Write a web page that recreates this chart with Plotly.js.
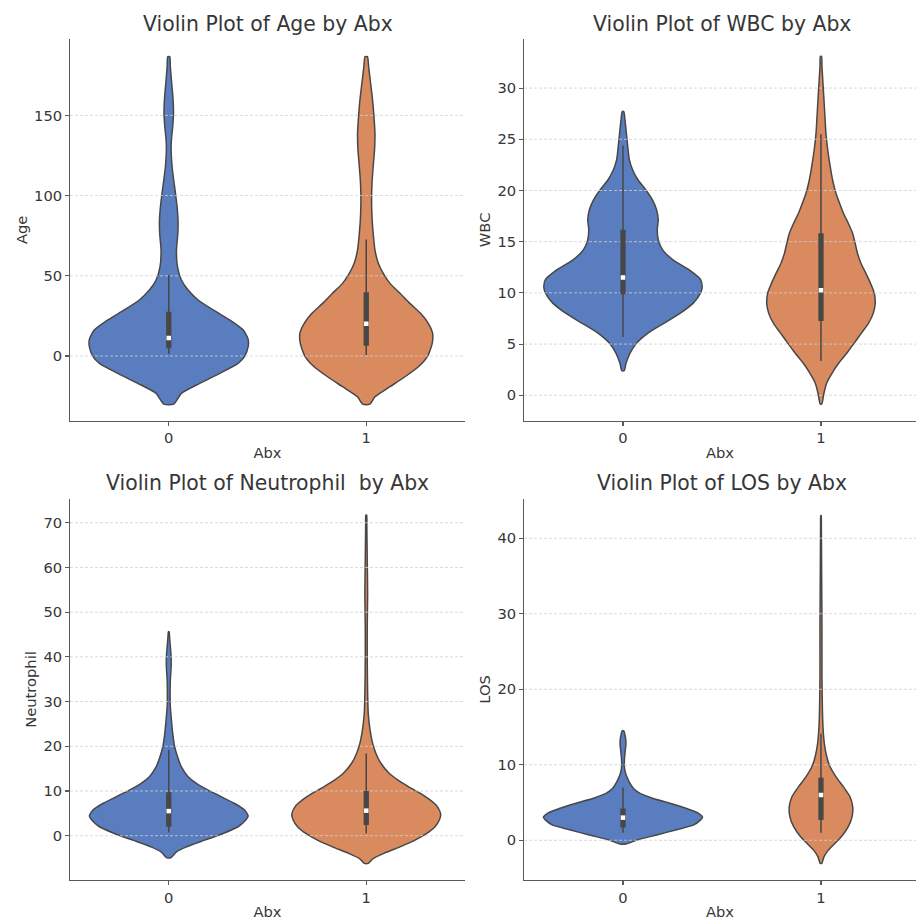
<!DOCTYPE html>
<html>
<head>
<meta charset="utf-8">
<script src="https://cdn.plot.ly/plotly-3.0.1.min.js"></script>
<style>html,body{margin:0;padding:0;background:#fff;}#chart{width:916px;height:920px;}</style>
</head>
<body>
<div id="chart"></div>
<script>
// ---------- data (density profile: y value, half-width in category units) ----------
const groups = ['0', '1'];
const groupPos = [0, 1];

// Age
const ageY0 = [-30, -23.3, -17, -10.8, -4.6, 0, 5.8, 10.4, 16.2, 22.4, 28.7, 34.9, 41.1, 47.4, 55.7, 66.1, 76.5, 84.8, 93.1, 101.4, 109.7, 118, 128.4, 134.7, 143, 151.3, 159.6, 170, 180.4, 186.6];
const ageW0 = [0.025, 0.064, 0.157, 0.258, 0.351, 0.385, 0.402, 0.402, 0.377, 0.31, 0.225, 0.149, 0.098, 0.064, 0.044, 0.039, 0.046, 0.047, 0.042, 0.034, 0.025, 0.017, 0.012, 0.0135, 0.02, 0.024, 0.022, 0.015, 0.008, 0.005];
const ageY1 = [-30, -25.4, -19.1, -12.9, -6.7, 0, 7.9, 14.1, 20.4, 26.6, 32.8, 39.1, 45.3, 51.5, 57.8, 66.1, 76.5, 86.9, 97.3, 107.6, 118, 128.4, 138.8, 149.2, 159.6, 170, 180.4, 186.6];
const ageW1 = [0.018, 0.044, 0.12, 0.196, 0.264, 0.311, 0.334, 0.336, 0.314, 0.275, 0.221, 0.171, 0.12, 0.086, 0.061, 0.044, 0.035, 0.029, 0.027, 0.029, 0.035, 0.042, 0.044, 0.039, 0.032, 0.022, 0.012, 0.006];
// [lower whisker, Q1, median, Q3, upper whisker]
const ageBox0 = [1.2, 4.8, 11.2, 27.6, 50.5];
const ageBox1 = [0.6, 6.4, 20.2, 39.7, 72.7];

// WBC
const wbcY0 = [2.4, 3.1, 4.1, 5.1, 6.1, 7.0, 8.0, 9.0, 10.0, 10.6, 11.3, 12.2, 13.2, 14.2, 15.2, 16.2, 17.1, 18.1, 19.1, 20.1, 21.0, 22.0, 23.0, 24.3, 25.6, 26.9, 27.7];
const wbcW0 = [0.006, 0.015, 0.035, 0.069, 0.128, 0.204, 0.288, 0.355, 0.392, 0.40, 0.392, 0.338, 0.254, 0.2, 0.178, 0.173, 0.178, 0.17, 0.148, 0.114, 0.077, 0.049, 0.032, 0.024, 0.017, 0.01, 0.004];
const wbcY1 = [-0.85, 0.2, 1.2, 2.1, 3.1, 4.1, 5.1, 6.1, 7.0, 8.0, 9.0, 10.0, 10.9, 11.9, 12.9, 13.9, 14.9, 15.8, 16.8, 17.8, 18.8, 19.7, 21.0, 22.3, 24.0, 25.6, 27.2, 28.9, 30.5, 32.1, 33.1];
const wbcW1 = [0.004, 0.015, 0.029, 0.054, 0.088, 0.13, 0.168, 0.205, 0.239, 0.264, 0.274, 0.269, 0.251, 0.227, 0.202, 0.184, 0.172, 0.16, 0.138, 0.113, 0.093, 0.076, 0.059, 0.047, 0.034, 0.025, 0.02, 0.015, 0.01, 0.005, 0.003];
const wbcBox0 = [5.7, 9.87, 11.5, 16.16, 24.4];
const wbcBox1 = [3.35, 7.26, 10.26, 15.83, 25.5];

// Neutrophil
const neuY0 = [-4.9, -3.6, -2.5, -1.0, 0.5, 2.0, 3.5, 4.4, 5.7, 7.2, 8.7, 10.2, 11.7, 13.2, 15.4, 17.7, 19.9, 22.9, 25.9, 28.9, 31.8, 34.8, 37.8, 40.0, 42.3, 44.5, 45.6];
const neuW0 = [0.012, 0.039, 0.09, 0.182, 0.275, 0.351, 0.39, 0.402, 0.385, 0.334, 0.267, 0.199, 0.14, 0.098, 0.064, 0.044, 0.03, 0.02, 0.0135, 0.008, 0.007, 0.008, 0.012, 0.012, 0.008, 0.004, 0.002];
const neuY1 = [-6.2, -5.1, -4.0, -2.5, -1.0, 0.5, 2.0, 3.5, 4.8, 6.5, 8.0, 9.5, 11.0, 12.5, 13.9, 16.2, 18.4, 20.7, 22.9, 25.1, 27.4, 31.8, 39.3, 46.8, 54.2, 61.7, 69.1, 71.7];
const neuW1 = [0.01, 0.035, 0.086, 0.171, 0.247, 0.306, 0.348, 0.37, 0.377, 0.36, 0.323, 0.272, 0.213, 0.159, 0.117, 0.074, 0.049, 0.032, 0.022, 0.015, 0.01, 0.007, 0.005, 0.005, 0.007, 0.005, 0.003, 0.002];
const neuBox0 = [0.75, 2.0, 5.5, 9.7, 19.2];
const neuBox1 = [0.5, 2.4, 5.6, 10.0, 18.4];

// LOS
const losY0 = [-0.5, 0.04, 0.7, 1.4, 2.0, 2.7, 3.05, 3.6, 4.2, 4.9, 5.6, 6.2, 6.9, 7.8, 8.7, 9.5, 10.6, 12.0, 12.8, 13.7, 14.5];
const losW0 = [0.015, 0.069, 0.17, 0.271, 0.355, 0.392, 0.402, 0.38, 0.322, 0.237, 0.145, 0.086, 0.052, 0.03, 0.015, 0.008, 0.007, 0.012, 0.015, 0.012, 0.004];
const losY1 = [-3.05, -2.2, -1.3, -0.4, 0.5, 1.8, 3.1, 4.5, 5.8, 7.1, 8.4, 9.8, 11.1, 12.8, 15.1, 17.7, 21.7, 28.3, 34.9, 41.5, 43];
const losW1 = [0.004, 0.015, 0.037, 0.071, 0.104, 0.138, 0.157, 0.16, 0.146, 0.113, 0.076, 0.045, 0.029, 0.017, 0.01, 0.007, 0.005, 0.005, 0.0035, 0.002, 0.001];
const losBox0 = [1.0, 1.7, 3.0, 4.2, 7.0];
const losBox1 = [1.0, 2.7, 6.0, 8.3, 14.1];

// tick values
const ageTicks = [0, 50, 100, 150];
const wbcTicks = [0, 5, 10, 15, 20, 25, 30];
const neuTicks = [0, 10, 20, 30, 40, 50, 60, 70];
const losTicks = [0, 10, 20, 30, 40];

const titles = ['Violin Plot of Age by Abx', 'Violin Plot of WBC by Abx', 'Violin Plot of Neutrophil\u00a0 by Abx', 'Violin Plot of LOS by Abx'];
const yLabels = ['Age', 'WBC', 'Neutrophil', 'LOS'];
const xLabel = 'Abx';

// ---------- styling ----------
const FONT = 'DejaVu Sans, Verdana, sans-serif';
const colors = ['#597dbf', '#d98b5f'];
const EDGE = '#474747';
const AXC = '#5a5a5a';
const TXT = '#363636';
const W = 916, H = 920;

const panels = [
  {ys: [ageY0, ageY1], ws: [ageW0, ageW1], box: [ageBox0, ageBox1], ticks: ageTicks, yr: [-40.3, 197.6], xr: [-0.5, 1.5], px: [70, 465], py: [39, 420.7]},
  {ys: [wbcY0, wbcY1], ws: [wbcW0, wbcW1], box: [wbcBox0, wbcBox1], ticks: wbcTicks, yr: [-2.48, 34.79], xr: [-0.5, 1.48], px: [524, 916], py: [39, 420.7]},
  {ys: [neuY0, neuY1], ws: [neuW0, neuW1], box: [neuBox0, neuBox1], ticks: neuTicks, yr: [-9.91, 75.31], xr: [-0.5, 1.5], px: [70, 465], py: [499, 880]},
  {ys: [losY0, losY1], ws: [losW0, losW1], box: [losBox0, losBox1], ticks: losTicks, yr: [-5.26, 45.2], xr: [-0.5, 1.48], px: [524, 916], py: [499, 880]}
];

const traces = [];
const layout = {
  width: W, height: H,
  margin: {l: 0, r: 0, t: 0, b: 0},
  paper_bgcolor: '#ffffff', plot_bgcolor: '#ffffff',
  showlegend: false,
  font: {family: FONT, color: TXT},
  annotations: []
};

panels.forEach((p, k) => {
  const n = k + 1;
  const xa = 'x' + (n === 1 ? '' : n), ya = 'y' + (n === 1 ? '' : n);
  const xKey = 'xaxis' + (n === 1 ? '' : n), yKey = 'yaxis' + (n === 1 ? '' : n);

  // violins
  groupPos.forEach((c, g) => {
    const ys = p.ys[g], ws = p.ws[g];
    const x = [], y = [];
    for (let i = 0; i < ys.length; i++) { x.push(c + ws[i]); y.push(ys[i]); }
    for (let i = ys.length - 1; i >= 0; i--) { x.push(c - ws[i]); y.push(ys[i]); }
    x.push(x[0]); y.push(y[0]);
    traces.push({type: 'scatter', mode: 'lines', x: x, y: y, xaxis: xa, yaxis: ya,
      fill: 'toself', fillcolor: colors[g],
      line: {color: EDGE, width: 1.5, shape: 'spline', smoothing: 0.6},
      hoverinfo: 'skip', showlegend: false});
  });

  // gridlines (drawn above violin bodies, below inner boxes)
  const gx = [], gy = [];
  p.ticks.forEach(t => { gx.push(p.xr[0], p.xr[1], null); gy.push(t, t, null); });
  traces.push({type: 'scatter', mode: 'lines', x: gx, y: gy, xaxis: xa, yaxis: ya,
    line: {color: '#cfcfcf', width: 0.8, dash: '3px,2px'}, hoverinfo: 'skip', showlegend: false, connectgaps: false});

  // inner boxes
  groupPos.forEach((c, g) => {
    const b = p.box[g];
    traces.push({type: 'scatter', mode: 'lines', x: [c, c], y: [b[0], b[4]], xaxis: xa, yaxis: ya,
      line: {color: EDGE, width: 1.5}, hoverinfo: 'skip', showlegend: false});
    traces.push({type: 'scatter', mode: 'lines', x: [c, c], y: [b[1], b[3]], xaxis: xa, yaxis: ya,
      line: {color: EDGE, width: 5.3}, hoverinfo: 'skip', showlegend: false});
    traces.push({type: 'scatter', mode: 'markers', x: [c], y: [b[2]], xaxis: xa, yaxis: ya,
      marker: {symbol: 'square', size: 4.5, color: '#ffffff', line: {width: 0}}, hoverinfo: 'skip', showlegend: false});
  });

  layout[xKey] = {
    domain: [p.px[0] / W, p.px[1] / W], anchor: ya, range: p.xr,
    tickmode: 'array', tickvals: groupPos, ticktext: groups,
    showline: true, linecolor: AXC, linewidth: 1.4, mirror: false,
    ticks: 'outside', ticklen: 3.5, tickwidth: 1.1, tickcolor: AXC,
    showgrid: false, zeroline: false, fixedrange: true,
    tickfont: {family: FONT, size: 14.7, color: TXT},
    title: {text: xLabel, font: {family: FONT, size: 14.7, color: TXT}, standoff: 2}
  };
  layout[yKey] = {
    domain: [1 - p.py[1] / H, 1 - p.py[0] / H], anchor: xa, range: p.yr,
    tickmode: 'array', tickvals: p.ticks,
    showline: true, linecolor: AXC, linewidth: 1.4,
    ticks: 'outside', ticklen: 3.5, tickwidth: 1.1, tickcolor: AXC,
    showgrid: false, zeroline: false, fixedrange: true,
    tickfont: {family: FONT, size: 14.7, color: TXT},
    title: {text: yLabels[k], font: {family: FONT, size: 14.7, color: TXT}, standoff: 3}
  };

  layout.annotations.push({
    text: titles[k], xref: 'paper', yref: 'paper',
    x: (p.px[0] + (k % 2 === 1 ? 920 : p.px[1])) / 2 / W,
    y: 1 - (k < 2 ? 24 : 483.3) / H,
    xanchor: 'center', yanchor: 'middle', showarrow: false,
    font: {family: FONT, size: 20.4, color: TXT}
  });
});

Plotly.newPlot('chart', traces, layout, {staticPlot: true, displayModeBar: false});
</script>
</body>
</html>
